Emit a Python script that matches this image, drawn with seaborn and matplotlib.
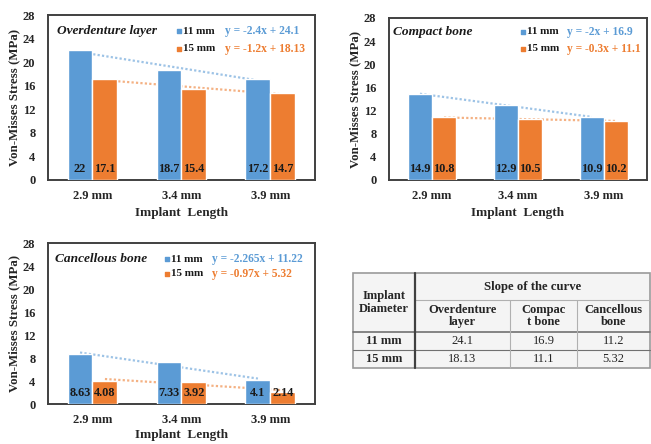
import numpy as np
import pandas as pd
import matplotlib.pyplot as plt
import matplotlib.transforms as mtransforms
import seaborn as sns

sns.set_theme(style="white")
plt.rcParams["font.family"] = ["Liberation Serif", "DejaVu Serif"]

BLUE = "#5B9BD5"
ORANGE = "#ED7D31"
BLUE_LINE = "#9DC3E6"
ORANGE_LINE = "#F4B183"
FRAME = "#404040"

lengths = ["2.9 mm", "3.4 mm", "3.9 mm"]
diameters = ["11 mm", "15 mm"]

overdenture_11 = [22, 18.7, 17.2]
overdenture_15 = [17.1, 15.4, 14.7]
compact_11 = [14.9, 12.9, 10.9]
compact_15 = [10.8, 10.5, 10.2]
cancellous_11 = [8.63, 7.33, 4.1]
cancellous_15 = [4.08, 3.92, 2.14]

# trendline coefficients (slope, intercept) per diameter
fit_overdenture = [(-2.4, 24.1), (-1.2, 18.13)]
fit_compact = [(-2.0, 16.9), (-0.3, 11.1)]
fit_cancellous = [(-2.265, 11.22), (-0.97, 5.32)]

eq_overdenture = ["y = -2.4x + 24.1", "y = -1.2x + 18.13"]
eq_compact = ["y = -2x + 16.9", "y = -0.3x + 11.1"]
eq_cancellous = ["y = -2.265x + 11.22", "y = -0.97x + 5.32"]

table_cols = ["Overdenture\nlayer", "Compac\nt bone", "Cancellous\nbone"]
table_rows = ["11 mm", "15 mm"]
table_vals = [["24.1", "16.9", "11.2"], ["18.13", "11.1", "5.32"]]

W = 0.56


def panel(ax, title, v11, v15, fits, eqs, tpos, lpos, xpad, lpad):
    df = pd.DataFrame({
        "length": lengths * 2,
        "stress": v11 + v15,
        "dia": [diameters[0]] * 3 + [diameters[1]] * 3,
    })
    sns.barplot(data=df, x="length", y="stress", hue="dia", ax=ax,
                palette=[BLUE, ORANGE], width=W, errorbar=None,
                legend=False, zorder=3, saturation=1)
    x = np.arange(len(lengths))
    for k, (m, b) in enumerate(fits):
        off = (-W / 4) if k == 0 else (W / 4)
        ax.plot(x + off, m * (x + 1) + b, ls=(0, (1, 1)), lw=1.6,
                color=[BLUE_LINE, ORANGE_LINE][k], zorder=2)
    trans = mtransforms.blended_transform_factory(ax.transData, ax.transAxes)
    for k, vals in enumerate([v11, v15]):
        off = (-W / 4) if k == 0 else (W / 4)
        for i, v in enumerate(vals):
            ax.text(i + off, 0.068, f"{v:g}", transform=trans, ha="center",
                    va="center", fontsize=8.8, fontweight="bold",
                    color="#1a1a1a", zorder=4)
    ax.set_xlim(-0.5, 2.5)
    ax.set_ylim(0, 28)
    ax.set_yticks(range(0, 29, 4))
    ax.tick_params(length=0, labelsize=9)
    ax.tick_params(axis="y", pad=9)
    ax.tick_params(axis="x", pad=xpad)
    for lab in ax.get_xticklabels() + ax.get_yticklabels():
        lab.set_fontweight("bold")
    ax.set_xlabel("Implant  Length", fontsize=9.5, fontweight="bold",
                  labelpad=lpad)
    ax.set_ylabel("Von-Misses Stress (MPa)", fontsize=9.3, fontweight="bold",
                  labelpad=2)
    for s in ax.spines.values():
        s.set_color(FRAME)
        s.set_linewidth(1.4)
    ax.text(tpos[0], tpos[1], title, transform=ax.transAxes, fontsize=9.6,
            fontstyle="italic", fontweight="bold", va="center", color="#1a1a1a")
    sq, tx, ex, y1, y2 = lpos
    for k, yy in enumerate([y1, y2]):
        col = [BLUE, ORANGE][k]
        ax.scatter([sq], [yy], marker="s", s=11, color=col,
                   transform=ax.transAxes, zorder=5, clip_on=False)
        ax.text(tx, yy, diameters[k], transform=ax.transAxes, fontsize=8,
                fontweight="bold", va="center", color="#1a1a1a")
        ax.text(ex, yy, eqs[k], transform=ax.transAxes, fontsize=8.3,
                fontweight="bold", va="center", color=col)


fig = plt.figure(figsize=(6.51, 4.44), dpi=100)
ax1 = fig.add_axes([0.0737, 0.5946, 0.410, 0.3716])
ax2 = fig.add_axes([0.5975, 0.5946, 0.396, 0.365])
ax3 = fig.add_axes([0.0737, 0.090, 0.410, 0.3626])

panel(ax1, "Overdenture layer", overdenture_11, overdenture_15,
      fit_overdenture, eq_overdenture, (0.034, 0.903),
      (0.49, 0.505, 0.665, 0.903, 0.794), 7, 4)
panel(ax2, "Compact bone", compact_11, compact_15,
      fit_compact, eq_compact, (0.015, 0.914),
      (0.52, 0.535, 0.69, 0.914, 0.809), 7, 4)
panel(ax3, "Cancellous bone", cancellous_11, cancellous_15,
      fit_cancellous, eq_cancellous, (0.026, 0.90),
      (0.445, 0.46, 0.615, 0.90, 0.81), 7, 2)

# ── slope table ────────────────────────────────────────────
H = 444.0
Wd = 651.0
xs = [353, 415, 510, 577, 650]
ys = [273, 300, 332, 350, 368]


def fx(px):
    return px / Wd


def fy(py):
    return 1 - py / H


tab = fig.add_axes([0, 0, 1, 1], facecolor="none")
tab.set_xlim(0, 1)
tab.set_ylim(0, 1)
tab.axis("off")
tab.add_patch(plt.Rectangle((fx(xs[0]), fy(ys[4])), fx(xs[4]) - fx(xs[0]),
                            fy(ys[0]) - fy(ys[4]), facecolor="#F4F4F4",
                            edgecolor="#9a9a9a", lw=1.2))
tab.plot([fx(xs[1]), fx(xs[4])], [fy(ys[1])] * 2, color="#b0b0b0", lw=0.8)
for yy in [ys[2], ys[3]]:
    tab.plot([fx(xs[0]), fx(xs[4])], [fy(yy)] * 2, color="#707070",
             lw=1.2 if yy == ys[2] else 0.8)
for xx in xs[2:4]:
    tab.plot([fx(xx)] * 2, [fy(ys[1]), fy(ys[4])], color="#b0b0b0", lw=0.8)
tab.plot([fx(xs[1])] * 2, [fy(ys[0]), fy(ys[4])], color="#404040", lw=1.6)

tab.text(fx((xs[0] + xs[1]) / 2), fy((ys[0] + ys[2]) / 2),
         "Implant\nDiameter", ha="center", va="center", fontsize=9,
         fontweight="bold", linespacing=1.1)
tab.text(fx((xs[1] + xs[4]) / 2), fy((ys[0] + ys[1]) / 2),
         "Slope of the curve", ha="center", va="center", fontsize=9.2,
         fontweight="bold")
for j, c in enumerate(table_cols):
    tab.text(fx((xs[j + 1] + xs[j + 2]) / 2), fy((ys[1] + ys[2]) / 2), c,
             ha="center", va="center", fontsize=9, fontweight="bold",
             linespacing=1.05)
for i, r in enumerate(table_rows):
    yc = fy((ys[i + 2] + ys[i + 3]) / 2)
    tab.text(fx((xs[0] + xs[1]) / 2), yc, r, ha="center", va="center",
             fontsize=9, fontweight="bold")
    for j, v in enumerate(table_vals[i]):
        tab.text(fx((xs[j + 1] + xs[j + 2]) / 2), yc, v, ha="center",
                 va="center", fontsize=9)

fig.savefig("out.png", dpi=100)
